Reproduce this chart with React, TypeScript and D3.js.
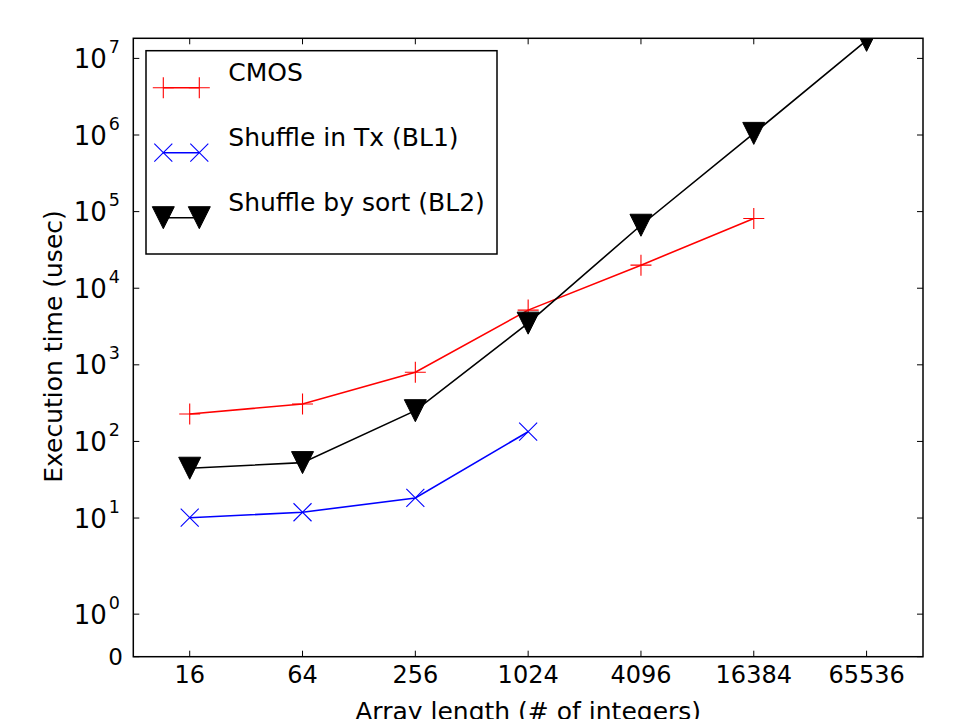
import React from 'react';
import * as d3 from 'd3';

// array lengths (x) and execution times in usec (y)
const lengths = [16, 64, 256, 1024, 4096, 16384, 65536];
const cmos = [228, 308, 800, 5180, 20000, 81300];
const bl1 = [10.1, 11.9, 18.3, 134];
const bl2 = [44.7, 52.9, 252, 3500, 66400, 1.05e6, 1.72e7];
const yTickValues = [0, 1, 10, 100, 1e3, 1e4, 1e5, 1e6, 1e7];
const yTickExp = ['', '0', '1', '2', '3', '4', '5', '6', '7'];

const W = 954;
const H = 719;
const left = 133.3, right = 923, top = 38.3, bottom = 656.7;

// matplotlib's symlog (linthresh 2, linscale 1)
const linthresh = 2;
const linscaleAdj = 1 / (1 - 1 / 10);
function symlog(v: number) {
  if (Math.abs(v) <= linthresh) return v * linscaleAdj;
  return Math.sign(v) * linthresh * (linscaleAdj + Math.log10(Math.abs(v) / linthresh));
}

const x = d3.scaleLog().base(2).domain([8, 131072]).range([left, right]);
const yLin = d3.scaleLinear().domain([0, symlog(1.83e7)]).range([bottom, top]);
const y = (v: number) => yLin(symlog(v));

const font = 'DejaVu Sans, sans-serif';

type Series = { name: string; values: number[]; color: string; marker: string };
const series: Series[] = [
  { name: 'CMOS', values: cmos, color: '#ff0000', marker: 'plus' },
  { name: 'Shuffle in Tx (BL1)', values: bl1, color: '#0000ff', marker: 'x' },
  { name: 'Shuffle by sort (BL2)', values: bl2, color: '#000000', marker: 'tri' },
];

function Marker({ kind, cx, cy, color }: { kind: string; cx: number; cy: number; color: string }) {
  if (kind === 'plus') {
    const r = 10.5;
    return (
      <path d={`M${cx - r},${cy}H${cx + r}M${cx},${cy - r}V${cy + r}`} stroke={color} strokeWidth={1.1} fill="none" />
    );
  }
  if (kind === 'x') {
    const r = 9;
    return (
      <path d={`M${cx - r},${cy - r}L${cx + r},${cy + r}M${cx - r},${cy + r}L${cx + r},${cy - r}`} stroke={color} strokeWidth={1.1} fill="none" />
    );
  }
  const r = 11;
  return <path d={`M${cx - r},${cy - r}L${cx + r},${cy - r}L${cx},${cy + r}Z`} fill={color} stroke={color} strokeWidth={1} />;
}

export default function App() {
  const line = d3.line<[number, number]>().x(d => d[0]).y(d => d[1]);

  return (
    <svg width={W} height={H} style={{ position: 'absolute', left: 0, top: 0, background: '#fff' }}>
      <defs>
        <clipPath id="plotArea">
          <rect x={left} y={top} width={right - left} height={bottom - top} />
        </clipPath>
      </defs>
      <rect x={0} y={0} width={W} height={H} fill="#fff" />

      {/* data */}
      <g clipPath="url(#plotArea)">
        {series.map(s => {
          const pts = s.values.map((v, i) => [x(lengths[i]), y(v)] as [number, number]);
          return (
            <g key={s.name}>
              <path d={line(pts) || ''} fill="none" stroke={s.color} strokeWidth={1.6} />
              {pts.map((p, i) => (
                <Marker key={i} kind={s.marker} cx={p[0]} cy={p[1]} color={s.color} />
              ))}
            </g>
          );
        })}
      </g>

      {/* ticks */}
      <g stroke="#000" strokeWidth={1}>
        {lengths.map(l => (
          <g key={l}>
            <line x1={x(l)} x2={x(l)} y1={bottom} y2={bottom - 6} />
            <line x1={x(l)} x2={x(l)} y1={top} y2={top + 6} />
          </g>
        ))}
        {yTickValues.map(v => (
          <g key={v}>
            <line x1={left} x2={left + 6} y1={y(v)} y2={y(v)} />
            <line x1={right} x2={right - 6} y1={y(v)} y2={y(v)} />
          </g>
        ))}
      </g>

      <rect x={left} y={top} width={right - left} height={bottom - top} fill="none" stroke="#000" strokeWidth={1.5} />

      {/* x tick labels */}
      {lengths.map(l => (
        <text key={l} x={x(l)} y={683.3} textAnchor="middle" fontFamily={font} fontSize={24} fill="#000">
          {l}
        </text>
      ))}

      {/* y tick labels */}
      {yTickValues.map((v, i) =>
        v === 0 ? (
          <text key={v} x={123} y={y(v) + 8.3} textAnchor="end" fontFamily={font} fontSize={23} fill="#000">
            0
          </text>
        ) : (
          <text key={v} x={120} y={y(v) + 9.5} textAnchor="end" fontFamily={font} fontSize={26} fill="#000">
            10
            <tspan dx={2} dy={-15} fontSize={17.5}>{yTickExp[i]}</tspan>
          </text>
        )
      )}

      {/* axis labels */}
      <text x={(left + right) / 2} y={720} textAnchor="middle" fontFamily={font} fontSize={25} fill="#000">
        Array length (# of integers)
      </text>
      <text transform={`translate(61.5,346.5) rotate(-90)`} textAnchor="middle" fontFamily={font} fontSize={25} fill="#000">
        Execution time (usec)
      </text>

      {/* legend */}
      <rect x={146} y={50.7} width={351} height={203.3} fill="#fff" stroke="#000" strokeWidth={1.5} />
      {series.map((s, i) => {
        const ly = 87.7 + i * 65;
        return (
          <g key={s.name}>
            <line x1={163.3} x2={199.3} y1={ly} y2={ly} stroke={s.color} strokeWidth={1.6} />
            <Marker kind={s.marker} cx={163.3} cy={ly} color={s.color} />
            <Marker kind={s.marker} cx={199.3} cy={ly} color={s.color} />
            <text x={228.3} y={ly - 7} fontFamily={font} fontSize={25} fill="#000">
              {s.name}
            </text>
          </g>
        );
      })}
    </svg>
  );
}
